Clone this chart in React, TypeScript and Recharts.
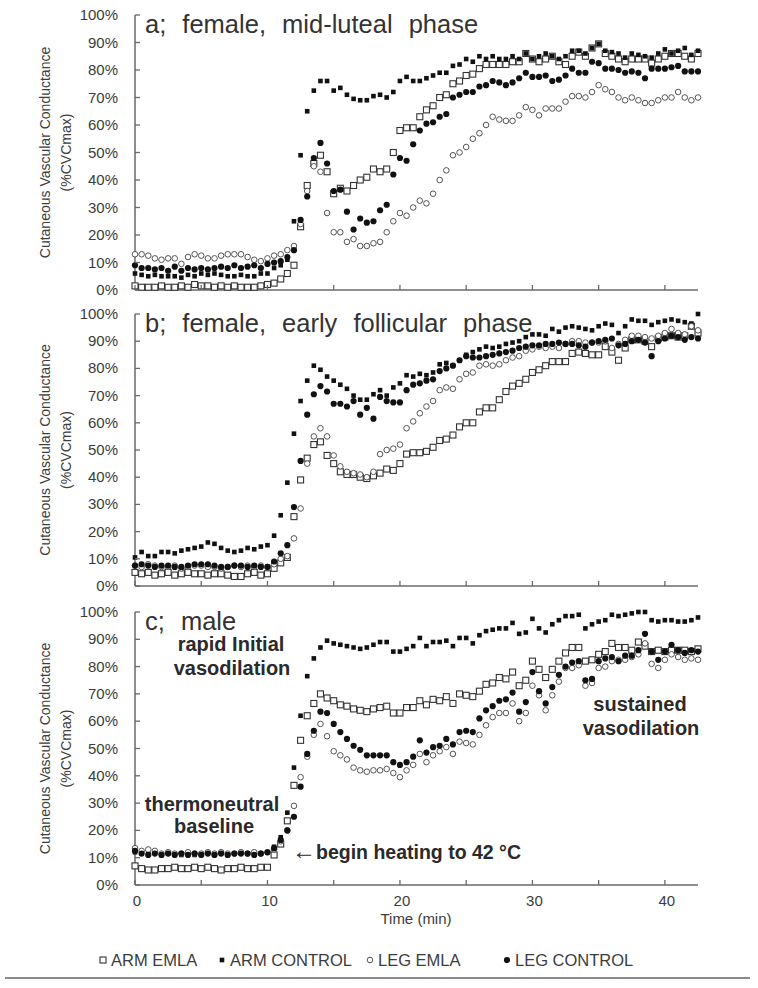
import React from "react";
import { ScatterChart, Scatter, XAxis, YAxis } from "recharts";

// time (min), one reading every 30 s
const TIME = [
  0, 0.5, 1, 1.5, 2, 2.5, 3, 3.5, 4, 4.5, 5, 5.5, 6, 6.5, 7, 7.5, 8, 8.5, 9, 9.5,
  10, 10.5, 11, 11.5, 12, 12.5, 13, 13.5, 14, 14.5, 15, 15.5, 16, 16.5, 17, 17.5, 18, 18.5, 19, 19.5,
  20, 20.5, 21, 21.5, 22, 22.5, 23, 23.5, 24, 24.5, 25, 25.5, 26, 26.5, 27, 27.5, 28, 28.5, 29, 29.5,
  30, 30.5, 31, 31.5, 32, 32.5, 33, 33.5, 34, 34.5, 35, 35.5, 36, 36.5, 37, 37.5, 38, 38.5, 39, 39.5,
  40, 40.5, 41, 41.5, 42, 42.5,
];

const X_TICKS = [0, 5, 10, 15, 20, 25, 30, 35, 40];
const Y_TICKS = [0, 10, 20, 30, 40, 50, 60, 70, 80, 90, 100];
const SERIES_NAMES = ["ARM EMLA", "ARM CONTROL", "LEG EMLA", "LEG CONTROL"];

// a; female, mid-luteal phase
const A_ARM_EMLA = [
  1.5, 1, 1, 1, 1.5, 1, 1, 1.5, 1, 2, 1.5, 1.5, 1, 1.5, 1, 1.5, 1, 1, 1, 1.5, 2,
  2.5, 4, 6, 9, 23, 38, 46, 49, 43, 35,
  37, 36, 38, 40, 41, 44, 43, 44, 50, 58,
  59, 59, 63, 65.5, 67, 70, 71, 75, 76, 78,
  78.5, 80.5, 82, 82, 82, 82, 83, 83, 86, 84,
  83, 84, 85, 83, 82, 85, 86.5, 85, 88, 89.5,
  86, 85, 84, 83, 84, 84, 84, 82.5, 84, 85,
  86, 86, 85, 84, 86,
];
const A_ARM_CONTROL = [
  6, 5.5, 5, 5.5, 5, 5, 5, 4.5, 5.5, 5, 6, 5.5, 6, 5.5, 5, 5, 5.5, 5, 5, 6, 6,
  8, 9, 11, 25, 49, 65, 72.5, 76, 76, 72.5,
  73.5, 71, 69.5, 69, 69, 70.5, 71, 70, 72, 76,
  77.5, 76, 76, 77, 78, 79, 79, 81.5, 82, 84,
  83, 85, 84, 85, 84, 84, 85, 84, 86, 84,
  85, 86, 85, 84, 85, 87, 87, 86, 88, 89.5,
  87, 86.5, 86, 84.5, 86, 85.5, 85, 84.5, 86, 87.5,
  86, 87, 88, 85.5, 87,
];
const A_LEG_EMLA = [
  13, 13, 12.5, 11.5, 11, 11.5, 11.5, 9.5, 12, 13, 12.5, 11.5, 11.5, 12.5, 13, 13, 13, 12, 11, 10.5, 11.5,
  12.5, 13, 14.5, 16, 24, 36, 45, 43, 28, 21,
  21, 17.5, 18.5, 16, 16, 17, 17.5, 21, 25, 28,
  27, 30, 32.5, 31.5, 35, 40, 43.5, 49, 50, 52,
  55, 57, 60, 63, 62, 61.5, 61.5, 63.5, 66.5, 65.5,
  63.5, 66, 66, 66, 68.5, 70.5, 70.5, 70, 72, 74.5,
  73, 72, 70, 69, 70, 69, 68, 68, 69, 70,
  70, 72, 70, 69, 70,
];
const A_LEG_CONTROL = [
  9, 8, 8, 7.5, 8, 7, 8.5, 7, 8, 7.5, 8, 7.5, 8, 8.5, 8, 9, 8, 8.5, 9, 8, 9.5,
  10, 10.5, 12, 14.5, 25.5, 34, 48, 53.5, 46, 36,
  36.5, 28.5, 22, 26, 24.5, 25, 29, 31, 42, 48,
  47, 53, 58, 60.5, 61, 63, 64, 70, 71, 72,
  72, 74, 74.5, 76, 75.5, 74.5, 75.5, 77, 79, 77.5,
  77.5, 78, 76, 76.5, 78, 80.5, 79, 79, 83, 82.5,
  80.5, 80.5, 80, 79, 79.5, 79, 77, 80.5, 80.5, 80.5,
  81, 81.5, 79.5, 79.5, 79.5,
];

// b; female, early follicular phase
const B_ARM_EMLA = [
  5, 4.5, 5, 4, 4.5, 5, 4, 4.5, 5, 4.5, 4.5, 4, 4.5, 4.5, 4, 3.5, 3.5, 4.5, 5, 4, 4.5,
  6.5, 8.5, 10.5, 25.5, 39, 47, 52, 53, 48, 45,
  42, 41, 41, 40, 39.5, 40.5, 41.5, 43, 42.5, 45,
  48.5, 49, 49, 49.5, 51, 53.5, 54, 55.5, 58.5, 60,
  60, 64, 65.5, 65.5, 68.5, 71.5, 73.5, 74.5, 76, 78.5,
  79.5, 81, 82.5, 82.5, 82.5, 85.5, 86, 85.5, 85, 85,
  88, 86, 83, 87.5, 90.5, 90.5, 90, 88, 91, 91.5,
  92, 91.5, 92, 95.5, 93,
];
const B_ARM_CONTROL = [
  10.5, 12.5, 11, 11, 12.5, 12.5, 12, 13, 13.5, 14, 14.5, 16, 15.5, 14, 13, 12.5, 13, 14, 13.5, 14.5, 15,
  18.5, 26, 38, 56, 68, 75.5, 81, 79.5, 77, 75.5,
  74, 72.5, 70, 68.5, 68.5, 70.5, 72, 70, 73, 74.5,
  77.5, 77, 78, 77.5, 78.5, 81.5, 82, 81, 83, 85,
  86, 87, 88, 87.5, 88, 89, 89.5, 90, 91.5, 92.5,
  92.5, 92, 94.5, 93.5, 95, 95.5, 95, 94.5, 94, 95.5,
  96.5, 96, 93, 95.5, 98, 97.5, 97.5, 96, 97, 97.5,
  98, 97.5, 97, 96.5, 100,
];
const B_LEG_EMLA = [
  7.5, 7, 8, 7.5, 7, 7, 7.5, 6.5, 7, 7.5, 7.5, 7, 7, 6.5, 7, 7.5, 7, 7.5, 7, 7.5, 7,
  8, 10, 11, 17.5, 28.5, 45, 55, 58, 55, 48,
  44, 42, 41.5, 41, 40, 42, 48.5, 50, 50.5, 52,
  58, 60.5, 63.5, 66, 68, 72, 73, 72.5, 76, 78,
  78.5, 81, 81.5, 81, 81.5, 83, 84, 84.5, 86.5, 87,
  88, 87.5, 88, 87.5, 89, 90, 90, 89.5, 89.5, 89.5,
  90, 87.5, 89, 90.5, 92, 92, 91.5, 91, 92, 93,
  94.5, 93, 92.5, 95.5, 94,
];
const B_LEG_CONTROL = [
  7.5, 8, 7.5, 7, 7.5, 7.5, 7, 7, 7.5, 8, 8, 8, 7.5, 7, 7, 7.5, 7.5, 7, 7.5, 7, 7,
  9, 12, 15, 29, 46, 63, 70.5, 73.5, 71.5, 67,
  67, 66, 68, 63, 65.5, 61.5, 69.5, 68, 67.5, 67.5,
  72, 74, 74.5, 75.5, 76, 79, 80, 81, 83, 84.5,
  84, 84, 84.5, 85, 85.5, 86, 86.5, 87.5, 88, 88.5,
  88.5, 89, 89, 89.5, 89, 89, 88.5, 88, 89.5, 90,
  90.5, 91, 88.5, 89, 90, 90.5, 89.5, 84.5, 90, 91,
  92, 91.5, 90.5, 91.5, 91,
];

// c; male
const C_ARM_EMLA = [
  7, 6, 5.5, 5.5, 6, 6, 6.5, 6, 6, 6.5, 6, 6.5, 6, 5.5, 6, 6, 6.5, 6, 6, 6.5, 6.5,
  11, 15, 23.5, 36.5, 53, 62, 66.5, 70, 68.5, 67.5,
  66, 65.5, 64.5, 64, 63.5, 64.5, 65, 65.5, 63, 63,
  65, 65, 67.5, 66, 68, 67.5, 69, 66.5, 70, 69.5,
  69, 71, 73.5, 74, 76, 75.5, 78, 73, 75, 82,
  79, 76, 79, 82, 85, 87, 87, 82, 82.5, 84.5,
  85.5, 88.5, 87, 87, 86, 89, 87.5, 85.5, 86, 85.5,
  86, 86, 86, 85.5, 86.5,
];
const C_ARM_CONTROL = [
  12, 11.5, 11.5, 12, 11, 11.5, 11.5, 11, 11.5, 11, 11.5, 12, 11.5, 12, 11, 11.5, 12, 11.5, 12, 11.5, 12,
  14, 17.5, 26.5, 43, 62, 76.5, 83, 87, 89.5, 88.5,
  88, 87.5, 87, 86.5, 87, 88, 89, 89, 85.5, 85.5,
  86.5, 87.5, 90.5, 87.5, 89, 89, 89.5, 87.5, 90.5, 90.5,
  88.5, 91.5, 93, 93.5, 94, 94, 96, 92, 92.5, 97.5,
  94, 92.5, 95.5, 97, 98.5, 98.5, 99, 94, 95.5, 96.5,
  97, 99, 98.5, 99, 99.5, 100, 100, 97, 96.5, 97,
  97, 96.5, 96.5, 97, 98,
];
const C_LEG_EMLA = [
  13.5, 12.5, 13, 12.5, 11.5, 12, 11.5, 11.5, 12, 11.5, 11.5, 12, 11.5, 12, 11.5, 11.5, 12, 11.5, 12, 11.5, 12,
  13, 16, 20, 29, 39.5, 47, 55, 59, 54.5, 49,
  47.5, 46, 43, 42, 41.5, 42, 42, 42.5, 41, 39.5,
  42, 44, 48, 45, 47.5, 49, 50.5, 48, 52.5, 52,
  51.5, 55, 58.5, 61.5, 63, 63, 66.5, 60, 63, 73,
  69.5, 64, 69.5, 74.5, 79.5, 79.5, 80.5, 73, 74, 79.5,
  80, 82, 82.5, 82.5, 83.5, 84.5, 88.5, 81, 79.5, 82.5,
  84.5, 83.5, 82.5, 83, 82.5,
];
const C_LEG_CONTROL = [
  12.5, 11.5, 11, 11.5, 11, 11.5, 11, 11.5, 11, 11.5, 11, 11.5, 11, 11.5, 11, 11.5, 11.5, 11.5, 11, 11.5, 12,
  13.5, 16.5, 20, 25, 36, 48, 56.5, 63.5, 63, 59,
  56, 53.5, 51, 49.5, 47.5, 47.5, 47.5, 47.5, 45, 44,
  45, 47, 53, 48.5, 50.5, 51, 53.5, 51.5, 56, 56.5,
  56, 61, 64, 65.5, 67.5, 68, 70.5, 63.5, 67, 78,
  71, 66.5, 72.5, 77, 80, 81.5, 82, 75, 75.5, 82,
  83, 83.5, 82, 84, 84, 86, 92, 85.5, 82.5, 85.5,
  88, 86, 85, 86, 85.5,
];

const AXIS = "#6a6a6a";
const TEXT = "#3c3c3c";
const FONT = "'Liberation Sans', Arial, sans-serif";

const OpenSquare = (p: any) => (
  <rect x={p.cx - 3} y={p.cy - 3} width={6} height={6} fill="#fff" stroke="#333" strokeWidth={1.1} />
);
const FilledSquare = (p: any) => (
  <rect x={p.cx - 2.3} y={p.cy - 2.3} width={4.6} height={4.6} fill="#111" />
);
const OpenCircle = (p: any) => (
  <circle cx={p.cx} cy={p.cy} r={2.8} fill="#fff" stroke="#555" strokeWidth={1} />
);
const FilledCircle = (p: any) => <circle cx={p.cx} cy={p.cy} r={3.1} fill="#111" />;

const SHAPES = [OpenSquare, FilledSquare, OpenCircle, FilledCircle];

const toRows = (vals: number[]) => TIME.map((t, i) => ({ t, v: vals[i] }));

const PANELS = [
  { title: "a; female, mid-luteal phase", top: 15, bottom: 290, series: [A_ARM_EMLA, A_ARM_CONTROL, A_LEG_EMLA, A_LEG_CONTROL] },
  { title: "b; female, early follicular phase", top: 314, bottom: 586, series: [B_ARM_EMLA, B_ARM_CONTROL, B_LEG_EMLA, B_LEG_CONTROL] },
  { title: "c; male", top: 612, bottom: 885, series: [C_ARM_EMLA, C_ARM_CONTROL, C_LEG_EMLA, C_LEG_CONTROL] },
];

const XTick = (props: any) => {
  const { x, y, payload, labels } = props;
  return (
    <g>
      <line x1={x} y1={y} x2={x} y2={y - 5} stroke={AXIS} strokeWidth={1.3} />
      {labels && payload.value % 10 === 0 && (
        <text x={x + 2} y={y + 21} textAnchor="middle" fontSize={15} fill={TEXT} fontFamily={FONT}>
          {payload.value}
        </text>
      )}
    </g>
  );
};

const YTick = ({ x, y, payload }: any) => (
  <g>
    <line x1={x} y1={y} x2={x + 5} y2={y} stroke={AXIS} strokeWidth={1.3} />
    <text x={x - 17} y={y + 5} textAnchor="end" fontSize={15} fill={TEXT} fontFamily={FONT}>
      {payload.value}%
    </text>
  </g>
);

const Panel = ({ top, bottom, series, labels }: any) => {
  const plotH = bottom - top;
  return (
    <div style={{ position: "absolute", left: 0, top: top - 10 }}>
      <ScatterChart width={758} height={plotH + 50} margin={{ top: 10, right: 60, bottom: 0, left: 0 }}>
        <XAxis
          type="number"
          dataKey="t"
          domain={[0, 42.5]}
          ticks={X_TICKS}
          interval={0}
          height={40}
          tickSize={0}
          tickMargin={0}
          tickLine={false}
          axisLine={{ stroke: AXIS, strokeWidth: 1.5 }}
          tick={(p: any) => <XTick {...p} labels={labels} />}
        />
        <YAxis
          type="number"
          dataKey="v"
          domain={[0, 100]}
          ticks={Y_TICKS}
          interval={0}
          width={135}
          tickSize={0}
          tickMargin={0}
          tickLine={false}
          axisLine={{ stroke: AXIS, strokeWidth: 1.5 }}
          tick={(p: any) => <YTick {...p} />}
        />
        {series.map((vals: number[], k: number) => (
          <Scatter
            key={SERIES_NAMES[k]}
            name={SERIES_NAMES[k]}
            data={toRows(vals)}
            shape={SHAPES[k]}
            isAnimationActive={false}
          />
        ))}
      </ScatterChart>
    </div>
  );
};

const LEGEND_X = [103, 222, 370, 507];

export default function App() {
  return (
    <div style={{ position: "absolute", left: 0, top: 0, width: 758, height: 988, background: "#fff" }}>
      {PANELS.map((p, i) => (
        <Panel key={p.title} top={p.top} bottom={p.bottom} series={p.series} labels={i === 2} />
      ))}
      <svg
        width={758}
        height={988}
        style={{ position: "absolute", left: 0, top: 0, pointerEvents: "none" }}
        fontFamily={FONT}
      >
        {PANELS.map((p) => {
          const mid = (p.top + p.bottom) / 2;
          return (
            <g key={p.title}>
              <text x={145} y={p.top + 18} fontSize={25.5} fill="#333" wordSpacing={9}>
                {p.title}
              </text>
              <text transform={`translate(50, ${mid}) rotate(-90)`} textAnchor="middle" fontSize={14} fill={TEXT}>
                Cutaneous Vascular Conductance
              </text>
              <text transform={`translate(71, ${mid}) rotate(-90)`} textAnchor="middle" fontSize={14} fill={TEXT}>
                (%CVCmax)
              </text>
            </g>
          );
        })}

        {/* panel c annotations */}
        <g fontWeight="bold" fontSize={20} fill="#2a2a2a" textAnchor="middle">
          <text x={231} y={651}>rapid Initial</text>
          <text x={232} y={675}>vasodilation</text>
          <text x={212} y={811}>thermoneutral</text>
          <text x={214} y={833}>baseline</text>
          <text x={640} y={711}>sustained</text>
          <text x={641} y={735}>vasodilation</text>
        </g>
        <g fontWeight="bold" fontSize={19.5} fill="#2a2a2a">
          <text x={292} y={859} fontSize={24} fontWeight="normal">←</text>
          <text x={316} y={859}>begin heating to 42 °C</text>
        </g>

        <text x={416} y={924} textAnchor="middle" fontSize={15} fill={TEXT}>
          Time (min)
        </text>

        {/* legend */}
        <g fontSize={16.5} fill={TEXT}>
          {SERIES_NAMES.map((name, k) => {
            const Shape = SHAPES[k];
            const lx = LEGEND_X[k];
            return (
              <g key={name}>
                <Shape cx={lx} cy={960} />
                <text x={lx + 8} y={966}>{name}</text>
              </g>
            );
          })}
        </g>
        <line x1={5} y1={978} x2={750} y2={978} stroke="#666" strokeWidth={1.5} />
      </svg>
    </div>
  );
}
